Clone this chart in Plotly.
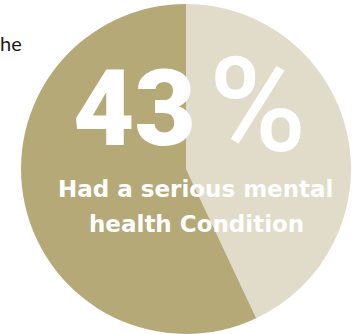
import plotly.graph_objects as go

# Share of respondents
labels = ["Had a serious mental health condition", "Other"]
values = [43, 57]
colors = ["#e1dcc9", "#b5aa77"]

number_text = "43"
percent_sign = "%"
caption_lines = ["Had a serious mental", "health Condition"]
side_text = "he"

W, H = 359, 334

fig = go.Figure(
    go.Pie(
        labels=labels,
        values=values,
        marker=dict(colors=colors, line=dict(width=0)),
        sort=False,
        direction="clockwise",
        rotation=0,
        textinfo="none",
        hoverinfo="label+percent",
        showlegend=False,
        domain=dict(x=[20 / W, 352 / W], y=[0, 330 / H]),
    )
)

# Big headline figure
fig.add_annotation(
    x=134 / W, y=1 - 109 / H, xref="paper", yref="paper",
    text=number_text, showarrow=False,
    font=dict(family="Roboto", size=106, color="white", weight=900),
    xanchor="center", yanchor="middle",
)
fig.add_annotation(
    x=257 / W, y=1 - 106 / H, xref="paper", yref="paper",
    text=percent_sign, showarrow=False,
    font=dict(family="Roboto", size=132, color="white", weight=500),
    xanchor="center", yanchor="middle",
)

# Caption, one annotation per line for wider leading
for line, ypix in zip(caption_lines, [189, 224]):
    fig.add_annotation(
        x=196 / W, y=1 - ypix / H, xref="paper", yref="paper",
        text=line, showarrow=False,
        font=dict(family="DejaVu Sans", size=23, color="white", weight="bold"),
        xanchor="center", yanchor="middle",
    )

fig.add_annotation(
    x=0, y=1 - 43 / H, xref="paper", yref="paper",
    text=side_text, showarrow=False,
    font=dict(family="Lato", size=20, color="#1a1a1a"),
    xanchor="left", yanchor="middle", xshift=-2,
)

fig.update_layout(
    width=W, height=H,
    margin=dict(l=0, r=0, t=0, b=0),
    paper_bgcolor="white", plot_bgcolor="white",
)

fig.write_html("out.html")
